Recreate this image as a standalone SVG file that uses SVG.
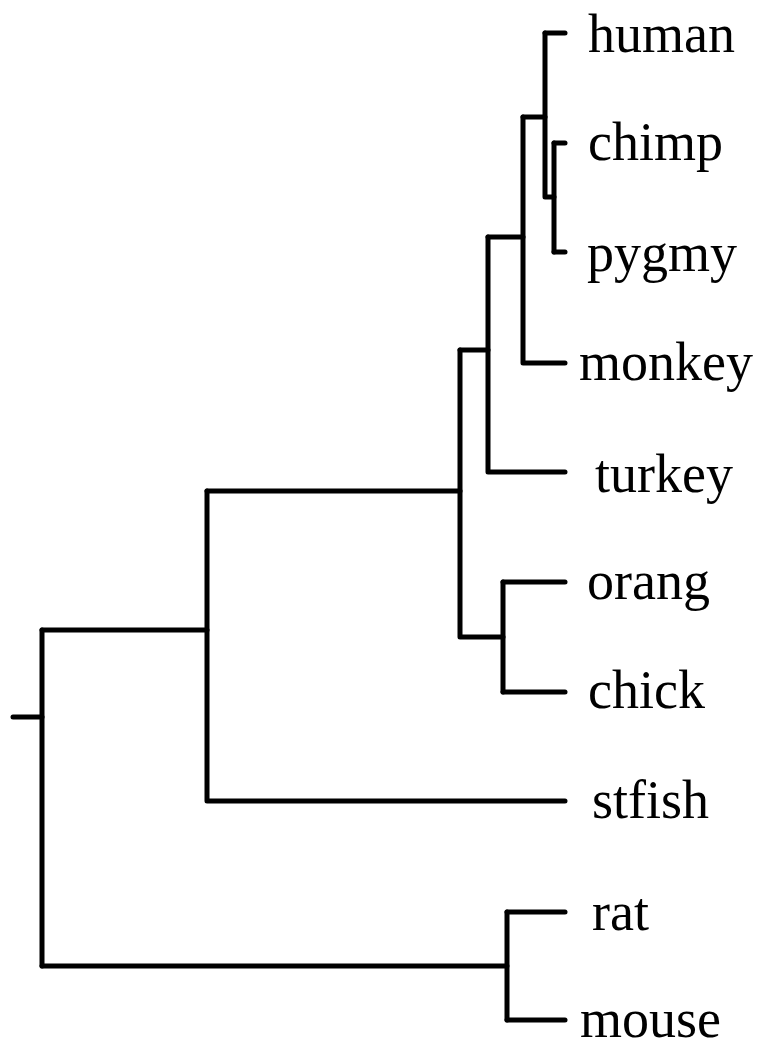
<svg xmlns="http://www.w3.org/2000/svg" width="759" height="1040" viewBox="0 0 759 1040">
<style>
.b{fill:none;stroke:#000;stroke-width:5;stroke-linecap:round;stroke-linejoin:round}
.t{font-family:"Liberation Serif","Times New Roman",serif;font-size:54px;fill:#000}
</style>
<rect width="759" height="1040" fill="#fff"/>
<g id="connectors">
<path class="b" d="M13,717 H42"/>
<path class="b" d="M42,630 V966"/>
<path class="b" d="M42,630 H207"/>
<path class="b" d="M42,966 H507"/>
<path class="b" d="M207,491 V801 H565"/>
<path class="b" d="M207,491 H460"/>
<path class="b" d="M460,350 V637 H503"/>
<path class="b" d="M503,582 V692"/>
<path class="b" d="M503,582 H565"/>
<path class="b" d="M503,692 H565"/>
<path class="b" d="M460,350 H488"/>
<path class="b" d="M488,237 V472 H565"/>
<path class="b" d="M488,237 H523"/>
<path class="b" d="M523,117 V363 H565"/>
<path class="b" d="M523,117 H545"/>
<path class="b" d="M545,33 V197 H554"/>
<path class="b" d="M545,33 H565"/>
<path class="b" d="M554,143 V252"/>
<path class="b" d="M554,143 H565"/>
<path class="b" d="M554,252 H565"/>
<path class="b" d="M507,912 V1020"/>
<path class="b" d="M507,912 H565"/>
<path class="b" d="M507,1020 H565"/>
</g>
<g id="human"><text class="t" x="588" y="52">human</text></g>
<g id="chimp"><text class="t" x="588" y="160">chimp</text></g>
<g id="pygmy"><text class="t" x="587" y="271">pygmy</text></g>
<g id="monkey"><text class="t" x="579" y="380">monkey</text></g>
<g id="turkey"><text class="t" x="595" y="492">turkey</text></g>
<g id="orang"><text class="t" x="587" y="599">orang</text></g>
<g id="chick"><text class="t" x="588" y="708">chick</text></g>
<g id="stfish"><text class="t" x="592" y="818">stfish</text></g>
<g id="rat"><text class="t" x="592" y="930">rat</text></g>
<g id="mouse"><text class="t" x="580" y="1037">mouse</text></g>
</svg>
